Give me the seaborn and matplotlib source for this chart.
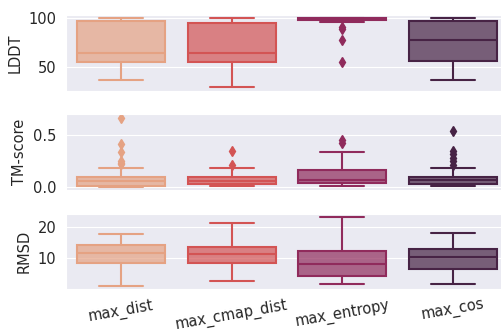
import numpy as np
import pandas as pd
import matplotlib
matplotlib.use("Agg")
import matplotlib.pyplot as plt
import seaborn as sns
from matplotlib.colors import to_rgba

methods = ["max_dist", "max_cmap_dist", "max_entropy", "max_cos"]

# LDDT per structure
lddt_max_dist = [35.7, 46, 54.4, 60, 64, 80, 97, 99, 100]
lddt_max_cmap_dist = [28.6, 45, 54.4, 60, 64.6, 82, 95.5, 98, 100]
lddt_max_entropy = [55, 77.5, 89, 91, 96.6, 98.2, 98.6, 98.9, 99.1, 99.3, 99.5,
                    99.6, 99.7, 99.8, 99.9, 100, 100, 100, 100, 100, 100]
lddt_max_cos = [36, 48, 56, 68, 77.2, 90, 97.5, 99, 100]

# TM-score per structure
tm_max_dist = [0.004, 0.006, 0.008, 0.010, 0.011, 0.012, 0.013, 0.014,
               0.022, 0.028, 0.035, 0.041, 0.047, 0.052, 0.057,
               0.062, 0.068, 0.074, 0.080, 0.086, 0.091, 0.095,
               0.187, 0.218, 0.232, 0.248, 0.342, 0.412, 0.671]
tm_max_cmap_dist = [0.005, 0.012, 0.019, 0.026, 0.036, 0.045, 0.054, 0.066,
                    0.080, 0.093, 0.185, 0.215, 0.345]
tm_max_entropy = [0.010, 0.020, 0.028, 0.035, 0.048, 0.060, 0.070, 0.095,
                  0.130, 0.161, 0.339, 0.430, 0.456]
tm_max_cos = [0.005, 0.010, 0.015, 0.019, 0.023, 0.027, 0.030, 0.032,
              0.037, 0.042, 0.047, 0.052, 0.056, 0.060, 0.064,
              0.069, 0.074, 0.079, 0.085, 0.090, 0.095, 0.099,
              0.180, 0.215, 0.247, 0.285, 0.317, 0.351, 0.541]

# RMSD per structure
rmsd_max_dist = [1.2, 5, 8.45, 10, 11.6, 13, 14.2, 16, 17.8]
rmsd_max_cmap_dist = [2.6, 6, 8.45, 10, 11.2, 12.5, 13.7, 17, 21.1]
rmsd_max_entropy = [1.9, 3, 4.4, 6, 8.1, 10, 12.3, 17, 23.1]
rmsd_max_cos = [1.9, 4.5, 6.6, 8.5, 10.4, 11.7, 12.8, 15, 18.0]


def to_long(metric, lists):
    rows = []
    for m, vals in zip(methods, lists):
        for v in vals:
            rows.append({"metric": metric, "method": m, "value": v})
    return rows


rows = []
rows += to_long("LDDT", [lddt_max_dist, lddt_max_cmap_dist, lddt_max_entropy, lddt_max_cos])
rows += to_long("TM-score", [tm_max_dist, tm_max_cmap_dist, tm_max_entropy, tm_max_cos])
rows += to_long("RMSD", [rmsd_max_dist, rmsd_max_cmap_dist, rmsd_max_entropy, rmsd_max_cos])
df = pd.DataFrame(rows)

sns.set_style("darkgrid")
palette = sns.color_palette("rocket_r", 4, desat=0.75)


def recolor(ax):
    # face with alpha, edges and lines in full colour
    for patch in ax.patches:
        xs = patch.get_path().vertices[:, 0]
        i = int(round((xs.min() + xs.max()) / 2))
        c = palette[i]
        patch.set_facecolor(to_rgba(c, 0.7))
        patch.set_edgecolor(c)
    for line in ax.lines:
        xd = np.asarray(line.get_xdata(), dtype=float)
        if xd.size == 0:
            continue
        i = int(round(xd.mean()))
        c = palette[i]
        line.set_color(c)
        line.set_markerfacecolor(c)
        line.set_markeredgecolor(c)


fig, axes = plt.subplots(3, 1, figsize=(5.01, 3.29), dpi=100, sharex=True)
fig.subplots_adjust(left=66 / 501, right=508 / 501, top=1 - 15 / 329,
                    bottom=1 - 289.3 / 329, hspace=0.31)

yticks = {"LDDT": [50, 100], "TM-score": [0.0, 0.5], "RMSD": [10, 20]}
for ax, metric in zip(axes, ["LDDT", "TM-score", "RMSD"]):
    sub = df[df["metric"] == metric]
    sns.boxplot(data=sub, x="method", y="value", hue="method", order=methods,
                hue_order=methods, palette=palette, saturation=1, legend=False,
                linewidth=1.5, width=0.8,
                flierprops=dict(marker="d", markersize=5), ax=ax)
    recolor(ax)
    ax.set_yticks(yticks[metric])
    ax.set_ylabel(metric, fontsize=10.5)
    ax.set_xlabel("")
    ax.tick_params(axis="y", labelsize=10.5)
    ax.tick_params(axis="x", labelsize=10.5, pad=2.5)

for lab in axes[-1].get_xticklabels():
    lab.set_rotation(10)
    lab.set_ha("center")

plt.savefig("out.png", dpi=100)
